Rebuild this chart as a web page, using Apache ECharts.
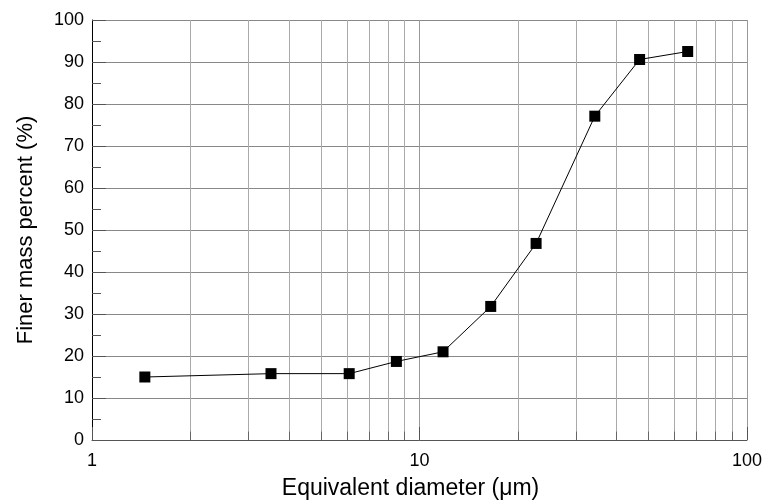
<!DOCTYPE html>
<html>
<head>
<meta charset="utf-8">
<script src="https://cdn.jsdelivr.net/npm/echarts@6/dist/echarts.min.js"></script>
<style>html,body{margin:0;padding:0;background:#fff;}#c{width:766px;height:501px;}</style>
</head>
<body>
<div id="c"></div>
<script>
var diameters = [1.45, 3.52, 6.1, 8.5, 11.8, 16.5, 22.7, 34.3, 47.0, 65.9];
var finerPercent = [15.0, 15.8, 15.8, 18.7, 21.0, 31.8, 46.8, 77.1, 90.6, 92.5];
var minorDiameters = [2, 3, 4, 5, 6, 7, 8, 9, 20, 30, 40, 50, 60, 70, 80, 90];
var xTitle = 'Equivalent diameter (\u03bcm)';
var yTitle = 'Finer mass percent (%)';

var font = '"Liberation Sans", Arial, sans-serif';
var points = diameters.map(function (d, i) { return [d, finerPercent[i]]; });

var chart = echarts.init(document.getElementById('c'), null, {renderer: 'canvas'});
chart.setOption({
  animation: false,
  backgroundColor: '#fff',
  grid: {left: 92, right: 19, top: 20, bottom: 61, containLabel: false, outerBoundsMode: 'none'},
  xAxis: {
    type: 'log', logBase: 10, min: 1, max: 100,
    name: xTitle, nameLocation: 'middle', nameGap: 37,
    nameTextStyle: {fontFamily: font, fontSize: 23, color: '#000', padding: [0, 18, 0, 0]},
    axisLine: {show: true, lineStyle: {color: '#555', width: 1}},
    axisTick: {show: true, inside: true, length: 13, lineStyle: {color: '#555'}},
    axisLabel: {fontFamily: font, fontSize: 18, color: '#000', margin: 12},
    splitLine: {show: true, lineStyle: {color: '#999', width: 1}}
  },
  yAxis: {
    type: 'value', min: 0, max: 100, interval: 10,
    name: yTitle, nameLocation: 'middle', nameGap: 55, nameRotate: 90,
    nameTextStyle: {fontFamily: font, fontSize: 22, color: '#000'},
    axisLine: {show: true, lineStyle: {color: '#000', width: 1}},
    axisTick: {show: true, inside: true, length: 14, lineStyle: {color: '#555'}},
    minorTick: {show: true, splitNumber: 2, length: 9, lineStyle: {color: '#555'}},
    axisLabel: {fontFamily: font, fontSize: 18, color: '#000', margin: 8},
    splitLine: {show: true, lineStyle: {color: '#888', width: 1}}
  },
  series: [
    {
      type: 'line', data: [], silent: true,
      markLine: {
        silent: true, symbol: 'none', animation: false,
        label: {show: false},
        lineStyle: {color: '#aaa', width: 1, type: 'solid'},
        data: minorDiameters.map(function (v) { return {xAxis: v}; })
      }
    },
    {
      type: 'line', data: [], silent: true,
      markLine: {
        silent: true, symbol: 'none', animation: false,
        label: {show: false},
        lineStyle: {color: '#666', width: 1, type: 'solid'},
        data: minorDiameters.map(function (v) { return [{coord: [v, 0]}, {coord: [v, 2]}]; })
      }
    },
    {
      type: 'line', data: points, z: 5,
      symbol: 'rect', symbolSize: 11,
      itemStyle: {color: '#000'},
      lineStyle: {color: '#000', width: 1}
    }
  ]
});
</script>
</body>
</html>
